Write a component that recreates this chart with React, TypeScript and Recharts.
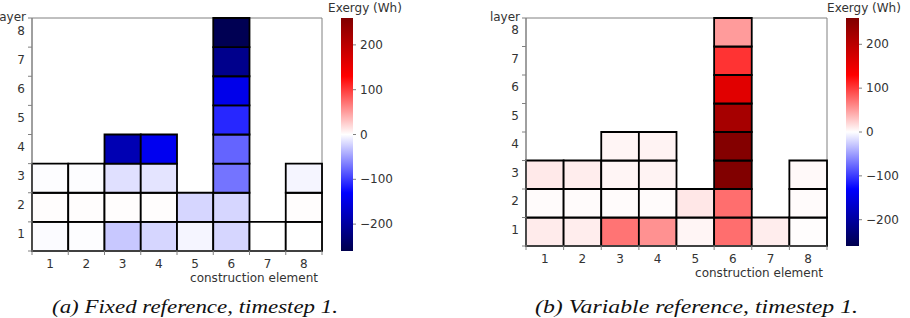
import React from 'react';
import { ComposedChart, XAxis, YAxis, ReferenceArea } from 'recharts';

// Construction elements (columns) and layers (rows)
const elements = [1, 2, 3, 4, 5, 6, 7, 8];
const layers = [1, 2, 3, 4, 5, 6, 7, 8];

// Exergy (Wh) of each construction element, listed from layer 1 upward
const fixedExergy: number[][] = [
  [-2, 1, -1],
  [-1, 1, -1],
  [-28, 1, -16, -185],
  [-21, 1, -14, -141],
  [-5, -21],
  [-21, -21, -71, -79, -110, -145, -214, -255],
  [0],
  [0, 1, -5],
];

const variableExergy: number[][] = [
  [10, 2, 11],
  [9, 2, 9],
  [71, 2, 5, 5],
  [56, 2, 6, 6],
  [5, 12],
  [74, 74, 258, 255, 221, 161, 104, 51],
  [9],
  [1, 2, 3],
];

const colorTicks = [-200, -100, 0, 100, 200];
const colorLimit = 260;
const colorTitle = 'Exergy (Wh)';
const xTitle = 'construction element';
const yTitle = 'layer';
const captions = ['(a) Fixed reference, timestep 1.', '(b) Variable reference, timestep 1.'];

const FONT = '"DejaVu Sans", sans-serif';
const FS = 12;
const TEXT = '#333';
const AXIS = '#808080';

// matplotlib "seismic" colormap
function seismic(v: number): string {
  const t = Math.max(0, Math.min(1, (v + colorLimit) / (2 * colorLimit)));
  let r: number, g: number, b: number;
  if (t < 0.25) {
    r = 0; g = 0; b = 0.3 + 0.7 * (t / 0.25);
  } else if (t < 0.5) {
    const s = (t - 0.25) / 0.25;
    r = s; g = s; b = 1;
  } else if (t < 0.75) {
    const s = (t - 0.5) / 0.25;
    r = 1; g = 1 - s; b = 1 - s;
  } else {
    const s = (t - 0.75) / 0.25;
    r = 1 - 0.5 * s; g = 0; b = 0;
  }
  const c = (x: number) => Math.round(x * 255);
  return `rgb(${c(r)},${c(g)},${c(b)})`;
}

const xTicks = [0, ...elements.flatMap((e) => [e - 0.5, e])];
const yTicks = [0, ...layers.flatMap((l) => [l - 0.5, l])];

const XTick = (props: any) => {
  const { x, y, payload } = props;
  const v = payload.value as number;
  if (Number.isInteger(v)) {
    return <line x1={x} x2={x} y1={y} y2={y + 4} stroke={AXIS} strokeWidth={1} />;
  }
  return (
    <text x={x} y={y + 17} textAnchor="middle" fill={TEXT} fontSize={FS} fontFamily={FONT}>
      {elements[Math.floor(v)]}
    </text>
  );
};

const YTick = (props: any) => {
  const { x, y, payload } = props;
  const v = payload.value as number;
  if (Number.isInteger(v)) {
    return <line x1={x - 4} x2={x} y1={y} y2={y} stroke={AXIS} strokeWidth={1} />;
  }
  return (
    <text x={x - 7} y={y + 2} textAnchor="end" fill={TEXT} fontSize={FS} fontFamily={FONT}>
      {layers[Math.floor(v)]}
    </text>
  );
};

const ColorTick = (props: any) => {
  const { x, y, payload } = props;
  const v = payload.value as number;
  return (
    <g>
      <line x1={x} x2={x + 3} y1={y} y2={y} stroke={AXIS} strokeWidth={1} />
      <text x={x + 7} y={y + 4} textAnchor="start" fill={TEXT} fontSize={FS} fontFamily={FONT}>
        {v < 0 ? `\u2212${Math.abs(v)}` : `${v}`}
      </text>
    </g>
  );
};

type HeatProps = {
  values: number[][];
  width: number;
  height: number;
  right: number;
  yAxisWidth: number;
  xAxisHeight: number;
};

function HeatGrid({ values, width, height, right, yAxisWidth, xAxisHeight }: HeatProps) {
  return (
    <ComposedChart width={width} height={height} margin={{ top: 18, right, bottom: 0, left: 0 }}>
      <XAxis
        type="number"
        dataKey="x"
        domain={[0, elements.length]}
        ticks={xTicks}
        interval={0}
        allowDataOverflow
        height={xAxisHeight}
        tickSize={0}
        tickMargin={0}
        tickLine={false}
        axisLine={{ stroke: AXIS }}
        tick={<XTick />}
        label={(p: any) => {
          const vb = p.viewBox;
          return (
            <text
              x={vb.x + vb.width - 4}
              y={vb.y + 31}
              textAnchor="end"
              fill={TEXT}
              fontSize={FS}
              fontFamily={FONT}
            >
              {xTitle}
            </text>
          );
        }}
      />
      <YAxis
        type="number"
        dataKey="y"
        domain={[0, layers.length]}
        ticks={yTicks}
        interval={0}
        allowDataOverflow
        width={yAxisWidth}
        tickSize={0}
        tickMargin={0}
        tickLine={false}
        axisLine={{ stroke: AXIS }}
        tick={<YTick />}
        label={(p: any) => {
          const vb = p.viewBox;
          return (
            <text
              x={vb.x + vb.width - 6}
              y={vb.y + 3}
              textAnchor="end"
              fill={TEXT}
              fontSize={FS}
              fontFamily={FONT}
            >
              {yTitle}
            </text>
          );
        }}
      />
      <ReferenceArea
        x1={0}
        x2={elements.length}
        y1={0}
        y2={layers.length}
        fill="none"
        stroke={AXIS}
        strokeWidth={1}
        ifOverflow="visible"
      />
      {values.flatMap((col, ci) =>
        col.map((v, li) => (
          <ReferenceArea
            key={`c${ci}-${li}`}
            x1={elements[ci] - 1}
            x2={elements[ci]}
            y1={layers[li] - 1}
            y2={layers[li]}
            fill={seismic(v)}
            fillOpacity={1}
            stroke="#000"
            strokeWidth={1.8}
            ifOverflow="visible"
          />
        ))
      )}
    </ComposedChart>
  );
}

const gradientStops = [
  { o: '0%', c: 'rgb(128,0,0)' },
  { o: '25%', c: 'rgb(255,0,0)' },
  { o: '50%', c: 'rgb(255,255,255)' },
  { o: '75%', c: 'rgb(0,0,255)' },
  { o: '100%', c: 'rgb(0,0,77)' },
];

function ColorBar({ id, bottom, barWidth }: { id: string; bottom: number; barWidth: number }) {
  return (
    <ComposedChart
      width={11 + barWidth + 52}
      height={290}
      margin={{ top: 18, right: 0, bottom, left: 11 }}
    >
      <defs>
        <linearGradient id={id} x1="0" y1="0" x2="0" y2="1">
          {gradientStops.map((s) => (
            <stop key={s.o} offset={s.o} stopColor={s.c} />
          ))}
        </linearGradient>
      </defs>
      <XAxis type="number" dataKey="x" domain={[0, 1]} allowDataOverflow hide />
      <YAxis
        type="number"
        dataKey="v"
        orientation="right"
        domain={[-colorLimit, colorLimit]}
        allowDataOverflow
        ticks={colorTicks}
        interval={0}
        width={52}
        tickSize={0}
        tickMargin={0}
        tickLine={false}
        axisLine={false}
        tick={<ColorTick />}
      />
      <ReferenceArea
        x1={0}
        x2={1}
        y1={-colorLimit}
        y2={colorLimit}
        fill={`url(#${id})`}
        fillOpacity={1}
        stroke="none"
        ifOverflow="visible"
      />
    </ComposedChart>
  );
}

const abs = (left: number, top: number): React.CSSProperties => ({
  position: 'absolute',
  left,
  top,
});

export default function App() {
  return (
    <div
      style={{
        position: 'absolute',
        left: 0,
        top: 0,
        width: 910,
        height: 318,
        background: '#fff',
        overflow: 'hidden',
      }}
    >
      <div style={abs(0, 0)}>
        <HeatGrid values={fixedExergy} width={330} height={290} right={8} yAxisWidth={32} xAxisHeight={39} />
      </div>
      <div style={abs(330, 0)}>
        <ColorBar id="seismic-a" bottom={39} barWidth={12} />
      </div>
      <div style={abs(480, 0)}>
        <HeatGrid values={variableExergy} width={360} height={290} right={13} yAxisWidth={46} xAxisHeight={44} />
      </div>
      <div style={abs(835, 0)}>
        <ColorBar id="seismic-b" bottom={44} barWidth={13} />
      </div>
      {[365, 864].map((cx, i) => (
        <div
          key={i}
          style={{
            position: 'absolute',
            left: cx - 50,
            top: 1,
            width: 100,
            textAlign: 'center',
            fontFamily: FONT,
            fontSize: FS,
            color: TEXT,
            lineHeight: '14px',
          }}
        >
          {colorTitle}
        </div>
      ))}
      <svg style={abs(0, 280)} width={910} height={38}>
        <text
          x={52}
          y={33}
          fontFamily='"Liberation Serif", "Times New Roman", serif'
          fontStyle="italic"
          fontSize={19}
          fill="#111"
          textLength={286}
          lengthAdjust="spacingAndGlyphs"
        >
          {captions[0]}
        </text>
        <text
          x={535}
          y={33}
          fontFamily='"Liberation Serif", "Times New Roman", serif'
          fontStyle="italic"
          fontSize={19}
          fill="#111"
          textLength={323}
          lengthAdjust="spacingAndGlyphs"
        >
          {captions[1]}
        </text>
      </svg>
    </div>
  );
}
